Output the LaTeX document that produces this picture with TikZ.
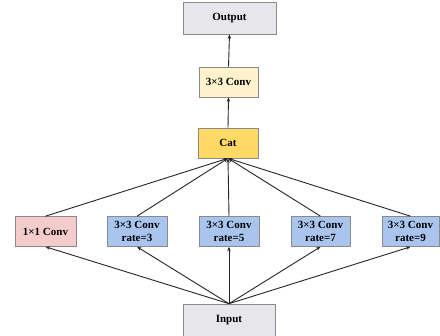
\documentclass[tikz,border=0pt]{standalone}
\usepackage{fontspec}
\setmainfont{Liberation Serif}
\usetikzlibrary{arrows.meta}
\definecolor{outgray}{HTML}{E7E6EA}
\definecolor{cream}{HTML}{FFF2CC}
\definecolor{catyel}{HTML}{FFD966}
\definecolor{pinkbox}{HTML}{F4CCCC}
\definecolor{bluebox}{HTML}{A9C5EE}
\definecolor{edgegray}{HTML}{8A8A8A}
\tikzset{
  blk/.style={draw=edgegray, line width=0.6pt, minimum height=30pt, inner sep=1pt,
    font=\fontsize{11}{13.5}\selectfont\bfseries, align=center},
  conn/.style={line width=0.9pt, draw=black!85, -{Stealth[length=4.5pt,width=3.5pt]}}
}
\begin{document}
\begin{tikzpicture}[x=1pt,y=-1pt]
\useasboundingbox (0,0) rectangle (440,336);
\node[blk, fill=outgray, minimum width=93pt, minimum height=32pt] (out) at (229.5,18) {Output};
\node[blk, fill=cream, minimum width=59pt] (conv) at (228.5,82) {3×3 Conv};
\node[blk, fill=catyel, minimum width=60pt] (cat) at (228,143) {Cat};
\node[blk, fill=pinkbox, minimum width=61pt] (b1) at (45.5,231.5) {1×1 Conv};
\node[blk, fill=bluebox, minimum width=60pt] (b3) at (137,231.5) {3×3 Conv\\rate=3};
\node[blk, fill=bluebox, minimum width=60pt] (b5) at (229,231.5) {3×3 Conv\\rate=5};
\node[blk, fill=bluebox, minimum width=59pt] (b7) at (320.5,231.5) {3×3 Conv\\rate=7};
\node[blk, fill=bluebox, minimum width=57pt] (b9) at (410.5,231.5) {3×3 Conv\\rate=9};
\node[blk, fill=outgray, minimum width=92pt, minimum height=32pt] (in) at (229,320) {Input};
\foreach \b in {b1,b3,b5,b7,b9}{
  \draw[conn] (in.north) -- (\b.south);
  \draw[conn] (\b.north) -- (cat.south);
}
\draw[conn] (cat.north) -- (conv.south);
\draw[conn] (conv.north) -- (out.south);
\end{tikzpicture}
\end{document}
